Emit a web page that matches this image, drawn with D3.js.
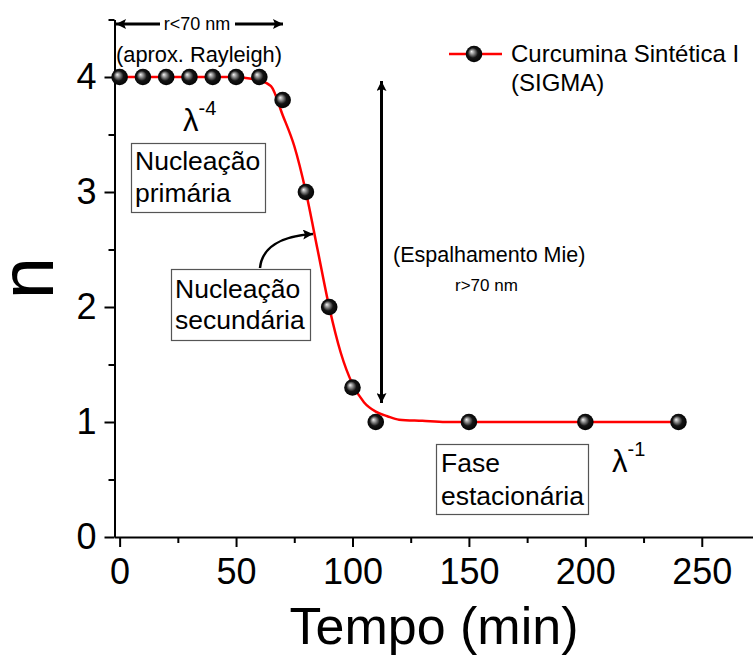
<!DOCTYPE html>
<html>
<head>
<meta charset="utf-8">
<script src="https://cdn.jsdelivr.net/npm/d3@7"></script>
<style>
  body { margin: 0; background: #fff; }
  svg { display: block; font-family: "Liberation Sans", Arial, sans-serif; }
</style>
</head>
<body>
<svg id="chart" width="753" height="655"></svg>
<script>
// ---- Data ----
const tempo   = [0, 10, 20, 30, 40, 50, 60, 70, 80, 90, 100, 110, 150, 200, 240];
const nValues = [4, 4, 4, 4, 4, 4, 4, 3.8, 3.0, 2.0, 1.3, 1.0, 1.0, 1.0, 1.0];
// fitted (red) curve
const curveX = [0, 50, 55, 60, 65, 70, 75, 80, 85, 90, 95, 100, 105, 110, 115, 120, 130, 140, 150, 200, 240];
const curveY = [4, 4, 3.99, 3.97, 3.92, 3.67, 3.4, 3.0, 2.5, 2.0, 1.6, 1.33, 1.17, 1.09, 1.05, 1.02, 1.01, 1.0, 1.0, 1.0, 1.0];
const xTicks = [0, 50, 100, 150, 200, 250];
const xMinor = [25, 75, 125, 175, 225];
const yTicks = [0, 1, 2, 3, 4];
const yMinor = [0.5, 1.5, 2.5, 3.5, 4.5];
const seriesName = ["Curcumina Sintética I", "(SIGMA)"];

const svg = d3.select("#chart");
const x = d3.scaleLinear().domain([-2.2, 272]).range([114.5, 753]);
const y = d3.scaleLinear().domain([0, 4.5]).range([537, 19.5]);

// defs: sphere gradient & arrow markers
const defs = svg.append("defs");
const grad = defs.append("radialGradient").attr("id", "sphere")
  .attr("cx", "50%").attr("cy", "50%").attr("r", "55%")
  .attr("fx", "35%").attr("fy", "35%");
grad.append("stop").attr("offset", "0%").attr("stop-color", "#f2f2f2");
grad.append("stop").attr("offset", "22%").attr("stop-color", "#9a9a9a");
grad.append("stop").attr("offset", "55%").attr("stop-color", "#151515");
grad.append("stop").attr("offset", "100%").attr("stop-color", "#000");
defs.append("marker").attr("id", "ah").attr("viewBox", "0 0 10 10")
  .attr("refX", 10).attr("refY", 5).attr("markerWidth", 16).attr("markerHeight", 10)
  .attr("markerUnits", "userSpaceOnUse").attr("orient", "auto-start-reverse")
  .append("path").attr("d", "M0,0 L10,5 L0,10 L2,5 Z").attr("fill", "#000");

// axes
svg.append("g").attr("transform", `translate(0,${y(0)})`)
  .call(d3.axisBottom(x).tickValues(xTicks).tickSize(10).tickSizeOuter(0).tickPadding(11));
svg.append("g").attr("transform", `translate(0,${y(0)})`)
  .call(d3.axisBottom(x).tickValues(xMinor).tickSize(6).tickFormat("")).select(".domain").remove();
svg.append("g").attr("transform", `translate(${x.range()[0]},0)`)
  .call(d3.axisLeft(y).tickValues(yTicks).tickFormat(d3.format("d")).tickSize(10).tickSizeOuter(0).tickPadding(8));
svg.append("g").attr("transform", `translate(${x.range()[0]},0)`)
  .call(d3.axisLeft(y).tickValues(yMinor).tickSize(6).tickFormat("")).select(".domain").remove();
svg.selectAll(".domain, .tick line").attr("stroke", "#000").attr("stroke-width", 2);
svg.selectAll(".tick text").attr("font-size", 36).attr("fill", "#000")
  .attr("font-family", "Liberation Sans, Arial, sans-serif");

// axis titles
svg.append("text").attr("x", 434).attr("y", 644).attr("text-anchor", "middle")
  .attr("font-size", 52).text("Tempo (min)");
svg.append("text").attr("transform", "translate(53,278) rotate(-90)").attr("text-anchor", "middle")
  .attr("font-size", 76).text("n");

// fit curve
const cdata = curveX.map((d, i) => [d, curveY[i]]);
svg.append("path").datum(cdata)
  .attr("d", d3.line().x(d => x(d[0])).y(d => y(d[1])).curve(d3.curveMonotoneX))
  .attr("fill", "none").attr("stroke", "#ff0000").attr("stroke-width", 2.5);

// points
svg.append("g").selectAll("circle").data(tempo).join("circle")
  .attr("cx", d => x(d)).attr("cy", (d, i) => y(nValues[i])).attr("r", 8.3)
  .attr("fill", "url(#sphere)");

// legend
svg.append("line").attr("x1", 449).attr("x2", 502).attr("y1", 54).attr("y2", 54)
  .attr("stroke", "#ff0000").attr("stroke-width", 2.5);
svg.append("circle").attr("cx", 474).attr("cy", 54).attr("r", 8.3).attr("fill", "url(#sphere)");
svg.append("text").attr("x", 511).attr("y", 62).attr("font-size", 24).text(seriesName[0]);
svg.append("text").attr("x", 511).attr("y", 91).attr("font-size", 24).text(seriesName[1]);

// r<70 nm double arrow
svg.append("line").attr("x1", 160).attr("x2", 116).attr("y1", 24).attr("y2", 24)
  .attr("stroke", "#000").attr("stroke-width", 3).attr("marker-end", "url(#ah)");
svg.append("line").attr("x1", 235).attr("x2", 283).attr("y1", 24).attr("y2", 24)
  .attr("stroke", "#000").attr("stroke-width", 3).attr("marker-end", "url(#ah)");
svg.append("text").attr("x", 197).attr("y", 30).attr("text-anchor", "middle")
  .attr("font-size", 18).text("r<70 nm");
svg.append("text").attr("x", 116).attr("y", 62).attr("font-size", 21.8).text("(aprox. Rayleigh)");

// lambda labels
function lambda(xp, yp, sup) {
  const t = svg.append("text").attr("x", xp).attr("y", yp).attr("font-size", 31);
  t.append("tspan").text("λ");
  t.append("tspan").attr("dy", -16).attr("font-size", 20).text(sup);
}
lambda(183, 131, "-4");
lambda(612, 472, "-1");

// boxes
function box(x0, y0, w, h, lines, tx, baselines) {
  svg.append("rect").attr("x", x0).attr("y", y0).attr("width", w).attr("height", h)
    .attr("fill", "#fff").attr("stroke", "#555").attr("stroke-width", 1.2);
  lines.forEach((l, i) => svg.append("text").attr("x", tx).attr("y", baselines[i])
    .attr("font-size", 26.5).text(l));
}
box(131.5, 143.5, 134, 69, ["Nucleação", "primária"], 135, [170, 202]);
box(171.5, 269.5, 139, 71, ["Nucleação", "secundária"], 175, [298, 329]);
box(436.5, 444.5, 152, 70, ["Fase", "estacionária"], 441, [472, 505]);

// curved arrow to the curve
svg.append("path").attr("d", "M260,268 C262,248 280,236 313,234")
  .attr("fill", "none").attr("stroke", "#000").attr("stroke-width", 2.5).attr("marker-end", "url(#ah)");

// vertical double arrow (Mie)
svg.append("line").attr("x1", 381.5).attr("x2", 381.5).attr("y1", 240).attr("y2", 81)
  .attr("stroke", "#000").attr("stroke-width", 3).attr("marker-end", "url(#ah)");
svg.append("line").attr("x1", 381.5).attr("x2", 381.5).attr("y1", 240).attr("y2", 403)
  .attr("stroke", "#000").attr("stroke-width", 3).attr("marker-end", "url(#ah)");
svg.append("text").attr("x", 393).attr("y", 262).attr("font-size", 21.5).text("(Espalhamento Mie)");
svg.append("text").attr("x", 455).attr("y", 291).attr("font-size", 17).text("r>70 nm");
</script>
</body>
</html>
